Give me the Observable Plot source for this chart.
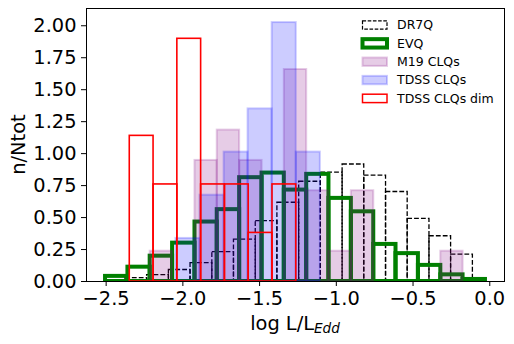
<!DOCTYPE html>
<html>
<head>
<meta charset="utf-8">
<script src="https://cdn.jsdelivr.net/npm/d3@7"></script>
<script src="https://cdn.jsdelivr.net/npm/@observablehq/plot@0.6"></script>
<style>
  html, body { margin: 0; padding: 0; background: #fff; }
  svg { display: block; }
</style>
</head>
<body>
<div id="chart"></div>
<script>
// ---- Data (log L/L_Edd bin edges and normalized heights) ----
const dr7qEdges = [-2.374, -2.233, -2.091, -1.950, -1.808, -1.667, -1.525, -1.384, -1.242, -1.101, -0.959, -0.818, -0.676, -0.535, -0.393, -0.252, -0.110];
const dr7qHeights = [0.026, 0.050, 0.090, 0.144, 0.230, 0.328, 0.472, 0.616, 0.780, 0.851, 0.915, 0.828, 0.700, 0.490, 0.354, 0.210];

const evqEdges = [-2.504, -2.358, -2.213, -2.067, -1.921, -1.776, -1.630, -1.484, -1.339, -1.193, -1.048, -0.902, -0.756, -0.611, -0.465, -0.319, -0.174, -0.028];
const evqHeights = [0.040, 0.112, 0.198, 0.300, 0.465, 0.562, 0.812, 0.848, 0.715, 0.838, 0.650, 0.545, 0.290, 0.218, 0.126, 0.052, 0.016];

const m19Edges = [-2.213, -2.067, -1.921, -1.776, -1.630, -1.484, -1.339, -1.193, -1.048, -0.902, -0.756, -0.611, -0.465, -0.319, -0.174];
const m19Heights = [0.237, 0, 0.947, 1.184, 0.947, 0, 1.658, 0.710, 0.237, 0.710, 0, 0, 0, 0.237];

const tdssEdges = [-2.045, -1.888, -1.731, -1.575, -1.418, -1.261, -1.104];
const tdssHeights = [0.337, 0.675, 1.012, 1.350, 2.025, 1.012];

const dimEdges = [-2.346, -2.191, -2.036, -1.881, -1.726, -1.571, -1.416, -1.261];
const dimHeights = [1.139, 0.759, 1.898, 0.759, 0.759, 0.380, 0.759];

const xTicks = [-2.5, -2.0, -1.5, -1.0, -0.5, 0.0];
const yTicks = [0, 0.25, 0.5, 0.75, 1.0, 1.25, 1.5, 1.75, 2.0];

const seriesNames = ["DR7Q", "EVQ", "M19 CLQs", "TDSS CLQs", "TDSS CLQs dim"];

// ---- Build bin tables ----
const bins = (edges, heights) =>
  heights.map((h, i) => ({x1: edges[i], x2: edges[i + 1], y1: 0, y2: h})).filter(d => d.y2 > 0);

const dr7q = bins(dr7qEdges, dr7qHeights);
const evq = bins(evqEdges, evqHeights);
const m19 = bins(m19Edges, m19Heights);
const tdss = bins(tdssEdges, tdssHeights);
const dim = bins(dimEdges, dimHeights);

const FONT = "DejaVu Sans";
const pos = {x1: "x1", x2: "x2", y1: "y1", y2: "y2", clip: true};

const plot = Plot.plot({
  width: 514,
  height: 344,
  marginLeft: 86,
  marginRight: 10,
  marginTop: 8,
  marginBottom: 63,
  style: {fontFamily: FONT, fontSize: "19.4px", background: "white", color: "black", overflow: "visible"},
  x: {domain: [-2.628, 0.096]},
  y: {domain: [0, 2.135]},
  marks: [
    Plot.rect(dr7q, {...pos, fill: "none", stroke: "black", strokeWidth: 1.3, strokeDasharray: "4.8,2.1"}),
    Plot.rect(evq, {...pos, fill: "none", stroke: "green", strokeWidth: 4}),
    Plot.rect(m19, {...pos, fill: "purple", fillOpacity: 0.2, stroke: "purple", strokeOpacity: 0.2, strokeWidth: 2}),
    Plot.rect(tdss, {...pos, fill: "blue", fillOpacity: 0.2, stroke: "blue", strokeOpacity: 0.2, strokeWidth: 2}),
    Plot.rect(dim, {...pos, fill: "none", stroke: "red", strokeWidth: 1.6}),
    Plot.frame({stroke: "black", strokeWidth: 1}),
    Plot.axisX({ticks: xTicks, tickFormat: d3.format(".1f"), tickSize: 5, tickPadding: 5, label: null}),
    Plot.axisY({ticks: yTicks, tickFormat: d3.format(".2f"), tickSize: 5, tickPadding: 5, label: null})
  ]
});

document.getElementById("chart").appendChild(plot);

// ---- Axis labels ----
const svg = d3.select(plot);
const xl = svg.append("text")
  .attr("x", 295).attr("y", 330)
  .attr("text-anchor", "middle")
  .style("font-family", FONT).style("font-size", "19.4px").attr("fill", "black");
xl.append("tspan").text("log L/L");
xl.append("tspan").attr("font-style", "italic").attr("font-size", "13.6px").attr("dy", 2.5).text("Edd");

svg.append("text")
  .attr("transform", "translate(25,144.5) rotate(-90)")
  .attr("text-anchor", "middle")
  .style("font-family", FONT).style("font-size", "19.4px").attr("fill", "black")
  .text("n/Ntot");

// ---- Legend ----
const legendStyles = [
  {fill: "white", fillOpacity: 1, stroke: "black", strokeOpacity: 1, strokeWidth: 1.2, dash: "3.6,1.6"},
  {fill: "white", fillOpacity: 1, stroke: "green", strokeOpacity: 1, strokeWidth: 4, dash: null},
  {fill: "purple", fillOpacity: 0.2, stroke: "purple", strokeOpacity: 0.2, strokeWidth: 2, dash: null},
  {fill: "blue", fillOpacity: 0.2, stroke: "blue", strokeOpacity: 0.2, strokeWidth: 2, dash: null},
  {fill: "white", fillOpacity: 1, stroke: "red", strokeOpacity: 1, strokeWidth: 1.5, dash: null}
];
const lg = svg.append("g").attr("transform", "translate(362,25)").attr("text-anchor", "start");
seriesNames.forEach((name, i) => {
  const s = legendStyles[i];
  const row = lg.append("g").attr("transform", `translate(0,${i * 18.35})`);
  const r = row.append("rect")
    .attr("x", 0.5).attr("y", -4.2).attr("width", 24.5).attr("height", 8.4)
    .attr("fill", s.fill).attr("fill-opacity", s.fillOpacity)
    .attr("stroke", s.stroke).attr("stroke-opacity", s.strokeOpacity).attr("stroke-width", s.strokeWidth);
  if (s.dash) r.attr("stroke-dasharray", s.dash);
  row.append("text")
    .attr("x", 35).attr("y", 0).attr("dy", "0.35em")
    .attr("text-anchor", "start")
    .style("font-family", FONT).style("font-size", "12.5px").attr("fill", "black")
    .text(name);
});
</script>
</body>
</html>
